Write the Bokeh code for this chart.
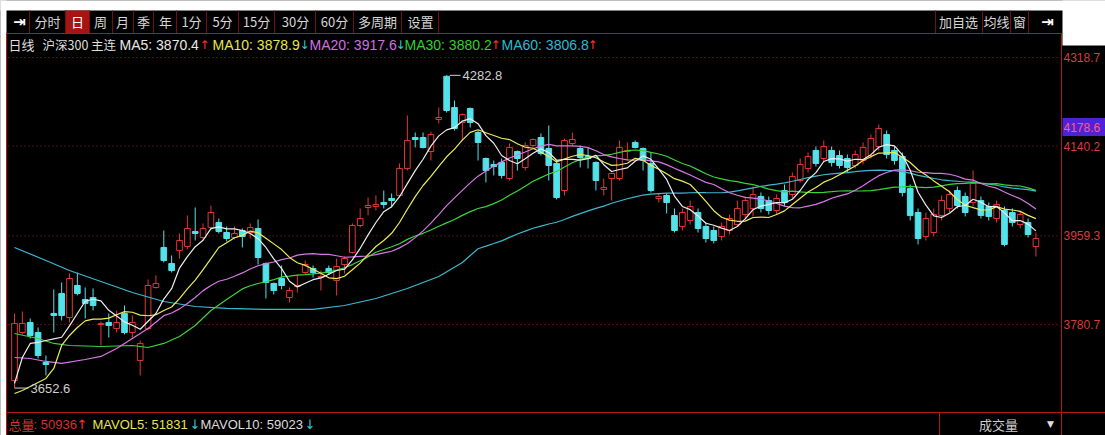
import pandas as pd
from bokeh.plotting import figure
from bokeh.models import Range1d, Label, ColumnDataSource
from bokeh.embed import file_html
from bokeh.resources import INLINE

# ---------------- data ----------------
opens = [3667.9, 3764.6, 3784.8, 3764.6, 3704.2, 3802.9, 3843.2, 3794.8, 3859.3, 3831.1,
         3835.1, 3780.7, 3784.8, 3772.7, 3802.9, 3764.6, 3708.2, 3772.7, 3855.3, 3935.9,
         3903.7, 3929.9, 3937.9, 3968.1, 3956.0, 3976.2, 3986.3, 3966.1, 3956.0, 3970.1,
         3966.1, 3974.2, 3903.7, 3863.4, 3873.4, 3835.1, 3857.3, 3885.5, 3893.6, 3875.4,
         3893.6, 3869.4, 3901.6, 3925.8, 3980.2, 4016.5, 4018.5, 4026.6, 4034.6, 4040.7,
         4095.1, 4157.5, 4157.5, 4129.3, 4193.8, 4280.8, 4218.0, 4187.8, 4216.0, 4167.6,
         4115.2, 4103.1, 4107.2, 4074.9, 4129.3, 4097.1, 4141.4, 4157.5, 4135.4, 4105.2,
         4050.7, 4145.5, 4135.4, 4119.3, 4107.2, 4052.8, 4074.9, 4074.9, 4129.3, 4147.5,
         4135.4, 4105.2, 4034.6, 4040.7, 4000.4, 3978.2, 3990.3, 4006.4, 3978.2, 3970.1,
         3958.1, 3970.1, 3982.2, 4002.4, 4014.5, 4038.7, 4030.6, 4010.4, 4050.7, 4042.7,
         4070.9, 4095.1, 4131.4, 4115.2, 4131.4, 4121.3, 4115.2, 4101.1, 4111.2, 4121.3,
         4139.4, 4163.6, 4131.4, 4119.3, 4054.8, 4006.4, 3958.1, 3966.1, 4000.4, 4014.5,
         4050.7, 4038.7, 4026.6, 4030.6, 4018.5, 3994.3, 4010.4, 4006.4, 3982.2, 3986.3,
         3937.9]
highs = [3802.9, 3806.9, 3792.8, 3774.7, 3718.3, 3851.3, 3865.4, 3883.5, 3885.5, 3855.3,
         3853.3, 3786.8, 3802.9, 3808.9, 3819.0, 3798.9, 3748.5, 3871.4, 3879.5, 3970.1,
         3919.8, 3964.1, 4000.4, 4016.5, 3984.3, 4020.5, 3994.3, 3978.2, 3978.2, 3974.2,
         3984.3, 3992.3, 3905.7, 3865.4, 3899.6, 3855.3, 3881.5, 3909.7, 3899.6, 3889.5,
         3899.6, 3913.7, 3917.8, 3984.3, 4014.5, 4036.6, 4040.7, 4050.7, 4044.7, 4105.2,
         4201.9, 4167.6, 4167.6, 4169.6, 4218.0, 4282.8, 4232.1, 4205.9, 4218.0, 4171.6,
         4117.2, 4111.2, 4115.2, 4145.5, 4131.4, 4147.5, 4155.5, 4165.6, 4181.7, 4111.2,
         4155.5, 4167.6, 4141.4, 4137.4, 4109.2, 4074.9, 4087.0, 4151.5, 4147.5, 4151.5,
         4137.4, 4127.3, 4044.7, 4044.7, 4014.5, 4014.5, 4030.6, 4014.5, 3986.3, 3978.2,
         3986.3, 4002.4, 4030.6, 4038.7, 4058.8, 4046.7, 4038.7, 4042.7, 4062.8, 4087.0,
         4115.2, 4127.3, 4139.4, 4151.5, 4139.4, 4131.4, 4123.3, 4131.4, 4147.5, 4163.6,
         4183.7, 4171.6, 4139.4, 4127.3, 4062.8, 4014.5, 4006.4, 4014.5, 4040.7, 4050.7,
         4058.8, 4046.7, 4091.0, 4038.7, 4026.6, 4030.6, 4018.5, 4014.5, 4010.4, 3994.3,
         3966.1]
lows = [3652.6, 3760.6, 3752.5, 3712.2, 3678.0, 3764.6, 3788.8, 3784.8, 3839.2, 3792.8,
        3808.9, 3738.4, 3754.5, 3764.6, 3760.6, 3754.5, 3678.0, 3768.6, 3853.3, 3905.7,
        3885.5, 3913.7, 3931.9, 3950.0, 3950.0, 3972.2, 3964.1, 3948.0, 3952.0, 3935.9,
        3954.0, 3901.6, 3833.1, 3841.2, 3851.3, 3825.1, 3845.2, 3881.5, 3875.4, 3849.2,
        3881.5, 3839.2, 3883.5, 3923.8, 3976.2, 4000.4, 4010.4, 4014.5, 4016.5, 4036.6,
        4091.0, 4137.4, 4135.4, 4111.2, 4185.8, 4207.9, 4171.6, 4151.5, 4177.7, 4111.2,
        4066.9, 4081.0, 4074.9, 4070.9, 4091.0, 4091.0, 4137.4, 4121.3, 4070.9, 4032.6,
        4040.7, 4141.4, 4097.1, 4095.1, 4050.7, 4040.7, 4030.6, 4070.9, 4111.2, 4135.4,
        4091.0, 4046.7, 4026.6, 4004.4, 3966.1, 3970.1, 3982.2, 3966.1, 3946.0, 3944.0,
        3950.0, 3962.1, 3978.2, 3994.3, 3998.4, 4006.4, 4002.4, 4002.4, 4018.5, 4034.6,
        4066.9, 4087.0, 4099.1, 4107.2, 4099.1, 4095.1, 4087.0, 4095.1, 4103.1, 4115.2,
        4131.4, 4115.2, 4103.1, 4038.7, 3990.3, 3941.9, 3950.0, 3958.1, 3990.3, 4006.4,
        4014.5, 3998.4, 4018.5, 3994.3, 3990.3, 3986.3, 3937.9, 3978.2, 3974.2, 3956.0,
        3917.8]
closes = [3782.8, 3782.8, 3758.6, 3718.3, 3700.1, 3798.9, 3798.9, 3873.4, 3843.2, 3823.1,
          3819.0, 3782.8, 3778.7, 3784.8, 3764.6, 3784.8, 3742.5, 3859.3, 3863.4, 3909.7,
          3889.5, 3950.0, 3974.2, 3964.1, 3974.2, 4006.4, 3968.1, 3954.0, 3964.1, 3958.1,
          3976.2, 3915.7, 3865.4, 3849.2, 3859.3, 3849.2, 3859.3, 3901.6, 3885.5, 3877.5,
          3885.5, 3897.6, 3913.7, 3980.2, 3994.3, 4020.5, 4022.5, 4022.5, 4030.6, 4095.1,
          4151.5, 4153.5, 4137.4, 4163.6, 4197.8, 4211.9, 4175.7, 4203.9, 4187.8, 4147.5,
          4091.0, 4099.1, 4081.0, 4137.4, 4115.2, 4141.4, 4153.5, 4125.3, 4101.1, 4036.6,
          4151.5, 4153.5, 4117.2, 4115.2, 4070.9, 4056.8, 4085.0, 4137.4, 4131.4, 4137.4,
          4111.2, 4050.7, 4038.7, 4026.6, 3970.1, 4006.4, 4018.5, 3974.2, 3954.0, 3950.0,
          3978.2, 3994.3, 4014.5, 4030.6, 4042.7, 4014.5, 4010.4, 4034.6, 4026.6, 4079.0,
          4103.1, 4119.3, 4105.2, 4139.4, 4107.2, 4101.1, 4097.1, 4123.3, 4137.4, 4155.5,
          4175.7, 4123.3, 4111.2, 4046.7, 4000.4, 3954.0, 3994.3, 4002.4, 4030.6, 4042.7,
          4020.5, 4006.4, 4064.9, 4000.4, 3998.4, 4022.5, 3941.9, 3986.3, 4002.4, 3962.1,
          3954.0]

# moving-average values before enough closes are on screen
ma5_lead_idx = [0, 1, 2, 3]
ma5_lead = [3661.9, 3714.2, 3742.5, 3744.5]
ma10_lead_idx = [0, 1, 2, 3, 4, 5, 6, 7, 8]
ma10_lead = [3641.7, 3647.7, 3655.8, 3663.9, 3671.9, 3692.1, 3738.4, 3758.6, 3774.7]
ma20_lead_idx = [0, 2, 4, 6, 9, 11, 13, 15, 17]
ma20_lead = [3714.2, 3712.2, 3706.2, 3702.2, 3710.2, 3716.3, 3732.4, 3752.5, 3772.7]
ma30_lead_idx = [0, 3, 5, 7, 11, 15, 17, 19, 21, 23, 25, 27]
ma30_lead = [3762.6, 3752.5, 3742.5, 3738.4, 3736.4, 3738.4, 3734.4, 3742.5, 3756.6, 3778.7, 3808.9, 3831.1]
ma60_lead_idx = [0, 4, 7, 11, 15, 19, 23, 27, 32, 38, 42, 46, 50, 54, 57]
ma60_lead = [3935.9, 3909.7, 3889.5, 3867.4, 3845.2, 3827.1, 3817.0, 3813.0, 3811.0, 3811.0,
             3819.0, 3833.1, 3853.3, 3877.5, 3905.7]

price_ticks = [4318.7, 4140.2, 3959.3, 3780.7]
price_tick_labels = ["4318.7", "4140.2", "3959.3", "3780.7"]
marker_price = 4178.6
high_mark = 4282.8
low_mark = 3652.6

tab_labels = ["分时", "日", "周", "月", "季", "年", "1分", "5分", "15分", "30分", "60分", "多周期", "设置"]
right_tab_labels = ["加自选", "均线", "窗"]
header_items = [("日线", "#dedede", "cjk"), ("沪深300 主连", "#dedede", "cjk"),
                ("MA5: 3870.4", "#e8e8e8", "num"), ("↑", "#ff3030", "arr"),
                ("MA10: 3878.9", "#e6e650", "num"), ("↓", "#30c8d8", "arr"),
                ("MA20: 3917.6", "#d070e0", "num"), ("↓", "#30c8d8", "arr"),
                ("MA30: 3880.2", "#30d030", "num"), ("↑", "#ff3030", "arr"),
                ("MA60: 3806.8", "#30b8d0", "num"), ("↑", "#ff3030", "arr")]
volume_items = [("总量", "#d83030", "cjk"), (": 50936", "#d83030", "num"), ("↑", "#ff3030", "arr"),
                ("MAVOL5: 51831", "#e6e650", "num"), ("↓", "#30c8d8", "arr"),
                ("MAVOL10: 59023", "#dcdcdc", "num"), ("↓", "#30c8d8", "arr")]

# ---------------- layout / style ----------------
W, H = 1105, 435
OFF = 0
CX0, CDX = 14.0, 7.857          # page x of first candle, candle spacing
PY0, P0, UPP = 57.0, 4318.7, 2.015  # page y of 4318.7, price units per pixel

def xd(px):
    return (px - CX0) / CDX

def yd(py):
    return P0 - (py - PY0) * UPP

CJK = "Noto Sans CJK SC"
NUM = "Liberation Sans"
ARR = "DejaVu Sans"
FONTS = {"cjk": CJK, "num": NUM, "arr": ARR}
RED = "#e23636"
CYAN = "#54e2ea"
FRAME = "#b01818"
DARK = "#701010"

p = figure(width=W, height=H, x_range=Range1d(xd(OFF), xd(OFF + W)),
           y_range=Range1d(yd(OFF + H), yd(OFF)),
           output_backend="svg", toolbar_location=None, x_axis_type=None, y_axis_type=None,
           min_border=0, background_fill_color="black", border_fill_color="black",
           outline_line_color=None, title=None)

def box(x0, x1, y0, y1, color):
    p.quad(left=[xd(x0)], right=[xd(x1)], top=[yd(y0)], bottom=[yd(y1)],
           fill_color=color, line_color=None)

def put(px, py, text, color, size, font=NUM, align="left", style="normal"):
    p.add_layout(Label(x=xd(px), y=yd(py), text=text, text_color=color,
                       text_font_size=f"{size}px", text_font=font, text_align=align,
                       text_baseline="middle", text_font_style=style))

# white page parts
box(-5, 1110, -5, 10, "white")
box(-5, 6, -5, 440, "white")
box(1062, 1110, -5, 45, "white")

# tab bar
box(65, 89, 10, 33, "#a81414")
sep_x = [29, 65, 89, 112, 133, 153, 176, 206, 238, 274, 315, 353, 401, 438, 935, 982, 1010, 1028]
p.segment(x0=[xd(x) for x in sep_x], y0=[yd(10)] * len(sep_x),
          x1=[xd(x) for x in sep_x], y1=[yd(33)] * len(sep_x), line_color=DARK, line_width=1)
tab_cx = [47, 77, 100, 122, 143, 165, 191, 222, 256, 295, 334, 377, 420]
for t, cx in zip(tab_labels, tab_cx):
    put(cx, 21, t, "white" if t == "日" else "#d6d6d6", 13, CJK, "center")
for t, cx in zip(right_tab_labels, [958, 996, 1019]):
    put(cx, 21, t, "#d6d6d6", 13, CJK, "center")
put(19, 21, "⇥", "white", 15, ARR, "center", "bold")
put(1047, 21, "⇥", "white", 15, ARR, "center", "bold")

# frame lines
fx0 = [6, 1061, 6, 6, 939]
fy0 = [33, 33, 33, 412, 412]
fx1 = [1061, 1061, 6, 1110, 939]
fy1 = [33, 440, 440, 412, 440]
p.segment(x0=[xd(v) for v in fx0], y0=[yd(v) for v in fy0], x1=[xd(v) for v in fx1],
          y1=[yd(v) for v in fy1], line_color=FRAME, line_width=1)

# header line
hx = [8, 42, 119, 199, 212, 299, 309, 395, 404, 490, 501, 587]
hs = [13, 12.5, 14, 12, 14, 12, 14, 12, 14, 12, 14, 12]
for (t, c, f), x, s in zip(header_items, hx, hs):
    put(x, 44, t, c, s, FONTS[f])

# dotted price grid + labels
p.segment(x0=[xd(8)] * 4, x1=[xd(1060)] * 4, y0=price_ticks, y1=price_ticks,
          line_color="#9a2020", line_dash="1 3", line_width=1)
for v, t in zip(price_ticks, price_tick_labels):
    p.add_layout(Label(x=xd(1063), y=v, text=t, text_color="#d83c3c", text_font_size="12px",
                       text_font=NUM, text_baseline="middle"))
p.quad(left=[xd(1062)], right=[xd(1110)], top=[marker_price + 9 * UPP],
       bottom=[marker_price - 9 * UPP], fill_color="#4f22d4", line_color=None)
p.add_layout(Label(x=xd(1063), y=marker_price, text=f"{marker_price:.1f}", text_color="#ff5c8a",
                   text_font_size="12px", text_font=NUM, text_baseline="middle"))

# candles
n = len(closes)
idx = list(range(n))
up = [c >= o for o, c in zip(opens, closes)]
src = ColumnDataSource(dict(
    x=idx, h=highs, l=lows,
    top=[max(o, c) for o, c in zip(opens, closes)],
    bot=[min(o, c) for o, c in zip(opens, closes)],
    col=[RED if u else CYAN for u in up],
    fill=["black" if u else CYAN for u in up]))
p.segment(x0="x", y0="h", x1="x", y1="l", line_color="col", source=src, line_width=1)
p.vbar(x="x", width=0.72, top="top", bottom="bot", fill_color="fill", line_color="col",
       line_width=1, source=src)

# moving averages
cl = pd.Series(closes)

def ma_line(k, lead_idx, lead_vals):
    m = cl.rolling(k).mean()
    xs = list(lead_idx) + list(range(k - 1, n))
    ys = list(lead_vals) + [float(v) for v in m.iloc[k - 1:]]
    return xs, ys

for k, li, lv, c in [(60, ma60_lead_idx, ma60_lead, "#3cb8d0"),
                     (30, ma30_lead_idx, ma30_lead, "#3ad43a"),
                     (20, ma20_lead_idx, ma20_lead, "#d878e8"),
                     (10, ma10_lead_idx, ma10_lead, "#ecec58"),
                     (5, ma5_lead_idx, ma5_lead, "#eeeeee")]:
    xs, ys = ma_line(k, li, lv)
    p.line(xs, ys, line_color=c, line_width=1.2)

# high / low markers
hi_i = highs.index(max(highs))
lo_i = lows.index(min(lows))
p.segment(x0=[hi_i + 0.4, lo_i], y0=[high_mark, low_mark], x1=[xd(460), xd(28)],
          y1=[high_mark, low_mark], line_color="#d0d0d0", line_width=1)
p.add_layout(Label(x=xd(462), y=high_mark, text=f"{high_mark:.1f}", text_color="#d0d0d0",
                   text_font_size="13px", text_font=NUM, text_baseline="middle"))
p.add_layout(Label(x=xd(30), y=low_mark, text=f"{low_mark:.1f}", text_color="#d0d0d0",
                   text_font_size="13px", text_font=NUM, text_baseline="middle"))

# volume header line
vx = [8, 33, 76, 92, 189, 200, 304]
for (t, c, f), x in zip(volume_items, vx):
    put(x, 424, t, c, 13, FONTS[f])
put(998, 424, "成交量", "#cfcfcf", 13, CJK, "center")
put(1050, 423, "▼", "#e0e0e0", 9, ARR, "center")

open("out.html", "w").write(file_html(p, INLINE))
